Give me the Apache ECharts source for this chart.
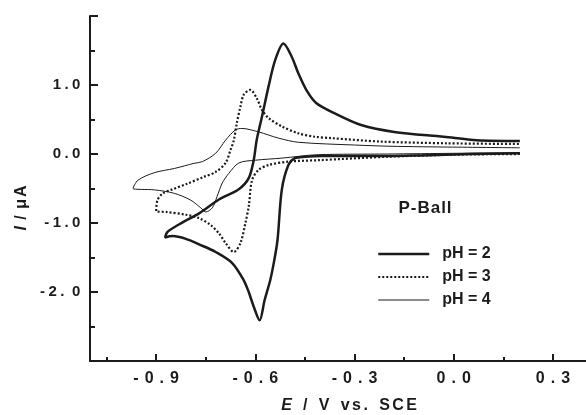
<!DOCTYPE html>
<html>
<head>
<meta charset="utf-8">
<script src="https://cdn.jsdelivr.net/npm/echarts@6/dist/echarts.min.js"></script>
<style>
  html, body { margin: 0; padding: 0; background: #fff; }
</style>
</head>
<body>
<div id="chart" style="width: 586px; height: 415px"></div>
<script>
// cyclic voltammograms, potential E (V vs SCE) and current I (uA)
const ph2E = [0.2, 0.05, -0.1, -0.2, -0.3, -0.4, -0.45, -0.48, -0.5, -0.52, -0.533, -0.545, -0.555, -0.572, -0.587, -0.605, -0.62, -0.635, -0.67, -0.72, -0.77, -0.81, -0.85, -0.873,
  -0.866, -0.82, -0.77, -0.71, -0.65, -0.62, -0.605, -0.596, -0.58, -0.56, -0.54, -0.515, -0.49, -0.47, -0.446, -0.416, -0.36, -0.28, -0.18, -0.03, 0.07, 0.2];
const ph2I = [0.01, 0.0, -0.02, -0.03, -0.03, -0.03, -0.04, -0.06, -0.16, -0.52, -1.25, -1.6, -1.83, -2.12, -2.41, -2.21, -2.0, -1.83, -1.58, -1.42, -1.31, -1.23, -1.19, -1.21,
  -1.13, -0.99, -0.86, -0.66, -0.51, -0.35, -0.09, 0.2, 0.54, 0.98, 1.36, 1.6, 1.41, 1.17, 0.93, 0.74, 0.59, 0.42, 0.32, 0.25, 0.2, 0.19];

const ph3E = [0.2, 0.0, -0.2, -0.41, -0.5, -0.56, -0.59, -0.61, -0.62, -0.63, -0.645, -0.665, -0.69, -0.71, -0.735, -0.77, -0.81, -0.87, -0.9,
  -0.896, -0.88, -0.855, -0.806, -0.755, -0.72, -0.69, -0.675, -0.665, -0.656, -0.645, -0.635, -0.615, -0.596, -0.58, -0.56, -0.52, -0.47, -0.42, -0.37, -0.22, -0.02, 0.2];
const ph3I = [0.0, -0.01, -0.04, -0.09, -0.11, -0.16, -0.23, -0.38, -0.76, -1.0, -1.29, -1.42, -1.29, -1.15, -1.03, -0.93, -0.88, -0.84, -0.83,
  -0.67, -0.57, -0.52, -0.43, -0.33, -0.26, -0.13, 0.06, 0.2, 0.45, 0.69, 0.86, 0.93, 0.81, 0.64, 0.52, 0.4, 0.3, 0.25, 0.23, 0.18, 0.155, 0.145];

const ph4E = [0.2, 0.0, -0.2, -0.41, -0.52, -0.6, -0.65, -0.68, -0.7, -0.716, -0.73, -0.75, -0.765, -0.795, -0.845, -0.905, -0.97,
  -0.955, -0.905, -0.845, -0.785, -0.76, -0.72, -0.69, -0.66, -0.64, -0.59, -0.53, -0.47, -0.3, -0.17, 0.2];
const ph4I = [0.02, 0.01, 0.0, -0.01, -0.06, -0.09, -0.13, -0.28, -0.42, -0.62, -0.78, -0.84, -0.78, -0.67, -0.57, -0.52, -0.5,
  -0.38, -0.27, -0.21, -0.135, -0.11, 0.01, 0.2, 0.35, 0.37, 0.32, 0.23, 0.17, 0.13, 0.11, 0.09];

const seriesNames = ['pH = 2', 'pH = 3', 'pH = 4'];

// tick labels as printed in the figure
const xMajorTicks = [-0.9, -0.6, -0.3, 0.0, 0.3];
const xMinorTicks = [-1.05, -0.75, -0.45, -0.15, 0.15];
const xTickLabels = ['- 0 . 9', '- 0 . 6', '- 0 . 3', '0 . 0', '0 . 3'];
const yTickValues = [1, 0, -1, -2];
const yTickLabels = ['1.0', '0.0', '-1.0', '-2. 0'];

const ink = '#1b1b1b';
const font = 'Liberation Sans, Arial, sans-serif';
const lineWidths = [2.5, 2.2, 1];

function zip(xs, ys) {
  return xs.map((x, i) => [x, ys[i]]);
}

// fake letter spacing: every visible char gets its own rich box with padding
function spaced(str, style) {
  return str.split('').map(ch => ch === ' ' ? ' ' : '{' + style + '|' + ch + '}').join('');
}

const chart = echarts.init(document.getElementById('chart'));

const option = {
  animation: false,
  grid: { left: 90, top: 16, width: 500, height: 345 },
  xAxis: [
    {
      type: 'value',
      min: -1.1,
      max: 0.4,
      axisLine: { onZero: false, lineStyle: { color: ink, width: 2 } },
      axisTick: {
        inside: true, length: 7, customValues: xMajorTicks,
        lineStyle: { color: ink, width: 2 }
      },
      axisLabel: {
        customValues: xMajorTicks,
        margin: 10,
        fontFamily: font, fontWeight: 'bold', fontSize: 16, color: ink,
        formatter: function (v) {
          const i = xMajorTicks.findIndex(t => Math.abs(t - v) < 1e-6);
          return i < 0 ? '' : spaced(xTickLabels[i], 'c');
        },
        rich: { c: { fontFamily: font, fontWeight: 'bold', fontSize: 16, color: ink, padding: [0, 0.8, 0, 0.8] } }
      },
      splitLine: { show: false }
    },
    {
      // minor ticks only
      type: 'value',
      min: -1.1,
      max: 0.4,
      position: 'bottom',
      axisLine: { show: false, onZero: false },
      axisTick: {
        inside: true, length: 4, customValues: xMinorTicks,
        lineStyle: { color: ink, width: 2 }
      },
      axisLabel: { show: false },
      splitLine: { show: false }
    }
  ],
  yAxis: {
    type: 'value',
    min: -3,
    max: 2,
    interval: 1,
    axisLine: { show: true, onZero: false, lineStyle: { color: ink, width: 2 } },
    axisTick: { show: true, inside: true, length: 8, lineStyle: { color: ink, width: 2 } },
    minorTick: { show: true, splitNumber: 2, length: 5, lineStyle: { color: ink, width: 2 } },
    axisLabel: {
      margin: 8,
      fontFamily: font, fontWeight: 'bold', fontSize: 15, color: ink,
      formatter: function (v) {
        const i = yTickValues.indexOf(Math.round(v));
        return i < 0 ? '' : spaced(yTickLabels[i], 'c');
      },
      rich: { c: { fontFamily: font, fontWeight: 'bold', fontSize: 15, color: ink, padding: [0, 1.7, 0, 1.7] } }
    },
    splitLine: { show: false }
  },
  legend: {
    data: seriesNames.map((n, i) => ({ name: n, lineStyle: { width: lineWidths[i] } })),
    orient: 'vertical',
    left: 377,
    top: 246,
    padding: 0,
    itemWidth: 51,
    itemHeight: 12,
    itemGap: 7,
    itemStyle: { opacity: 0 },
    textStyle: { fontFamily: font, fontWeight: 'bold', fontSize: 16, color: ink, padding: [0, 0, 0, 8] }
  },
  graphic: [
    {
      type: 'text', x: 425, y: 208,
      style: {
        text: spaced('P-Ball', 'c'),
        align: 'center', verticalAlign: 'middle',
        font: 'bold 17px ' + font, fill: ink,
        rich: { c: { font: 'bold 17px ' + font, fill: ink, padding: [0, 0.5, 0, 0.5] } }
      }
    },
    {
      type: 'text', x: 349, y: 406,
      style: {
        text: spaced('E  /  V  vs.  SCE', 'c').replace('{c|E}', '{i|E}'),
        align: 'center', verticalAlign: 'middle',
        font: 'bold 16px ' + font, fill: ink,
        rich: {
          c: { font: 'bold 16px ' + font, fill: ink, padding: [0, 1.2, 0, 1.2] },
          i: { font: 'italic bold 16px ' + font, fill: ink, padding: [0, 1.2, 0, 1.2] }
        }
      }
    },
    {
      type: 'text', x: 22, y: 208, rotation: Math.PI / 2,
      style: {
        text: spaced('I / μA', 'c').replace('{c|I}', '{i|I}'),
        align: 'center', verticalAlign: 'middle',
        font: 'bold 16px ' + font, fill: ink,
        rich: {
          c: { font: 'bold 16px ' + font, fill: ink, padding: [0, 1, 0, 1] },
          i: { font: 'italic bold 16px ' + font, fill: ink, padding: [0, 1, 0, 1] }
        }
      }
    }
  ],
  series: [
    {
      name: seriesNames[0],
      type: 'line',
      data: zip(ph2E, ph2I),
      symbol: 'none',
      smooth: 0.3,
      lineStyle: { color: ink, width: lineWidths[0] },
      itemStyle: { color: ink }
    },
    {
      name: seriesNames[1],
      type: 'line',
      data: zip(ph3E, ph3I),
      symbol: 'none',
      smooth: 0.3,
      lineStyle: { color: ink, width: lineWidths[1], type: [2, 2] },
      itemStyle: { color: ink }
    },
    {
      name: seriesNames[2],
      type: 'line',
      data: zip(ph4E, ph4I),
      symbol: 'none',
      smooth: 0.3,
      lineStyle: { color: ink, width: lineWidths[2] },
      itemStyle: { color: ink }
    }
  ]
};

chart.setOption(option);
</script>
</body>
</html>
